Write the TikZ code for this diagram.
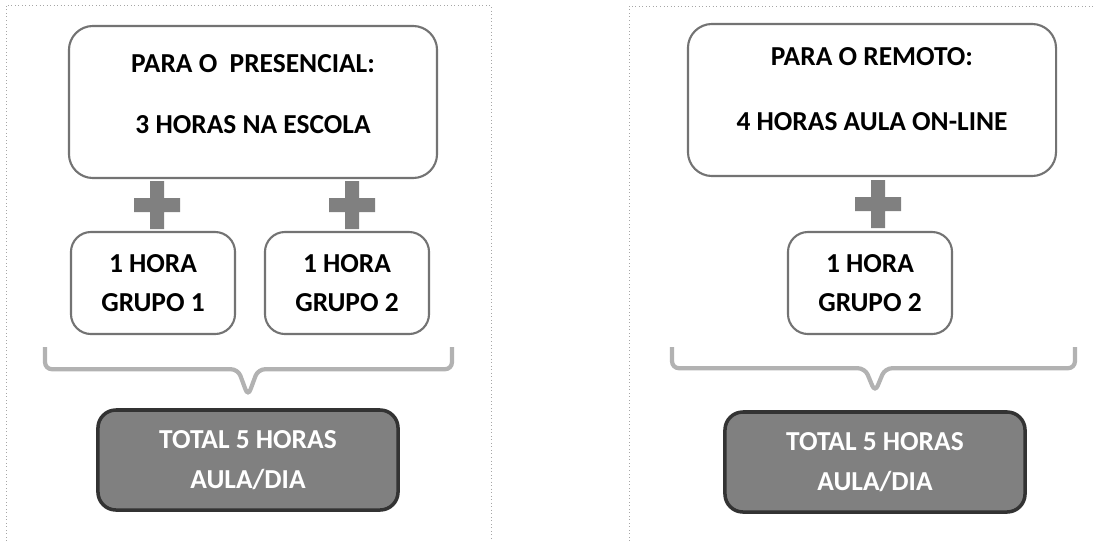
\documentclass[tikz,border=0pt]{standalone}
\usepackage{fontspec}
\setmainfont{Carlito}
\usetikzlibrary{calc,positioning}
\def\plusmark(#1){\fill[black!50] ($(#1)+(-7,-24)$) -- ($(#1)+(7,-24)$) -- ($(#1)+(7,-7)$) -- ($(#1)+(23,-7)$) -- ($(#1)+(23,7)$) -- ($(#1)+(7,7)$) -- ($(#1)+(7,24)$) -- ($(#1)+(-7,24)$) -- ($(#1)+(-7,7)$) -- ($(#1)+(-23,7)$) -- ($(#1)+(-23,-7)$) -- ($(#1)+(-7,-7)$) -- cycle;}
\tikzset{
	boxfont/.style={font=\bfseries\fontsize{19.5}{23}\selectfont},
	bigbox/.style={boxfont, draw=black!55, line width=1.5pt, rounded corners=0.6cm, minimum width=9.2cm, minimum height=3.8cm, align=center},
	grupobox/.style={boxfont, draw=black!55, line width=1.5pt, rounded corners=0.5cm, minimum width=4.1cm, minimum height=2.55cm, align=center},
	totalbox/.style={boxfont, draw=black!80, line width=2.5pt, fill=black!50, text=white, rounded corners=0.45cm, minimum width=7.5cm, minimum height=2.5cm, align=center},
	frame/.style={draw=black!35, line width=0.5pt, dotted},
	bracket/.style={draw=black!30, line width=3pt, rounded corners=5pt},
}

\begin{document}
\begin{tikzpicture}[x=0.025cm, y=-0.025cm]
			%%%%% START %%%%%
			\useasboundingbox (0, 0) rectangle (1093, 541);
			
			\draw[frame] (6, 541) |- (491, 5) -- (491, 541);
			\draw[frame] (629, 541) |- (1093, 6);
			
			% presencial
			\node[bigbox, text depth=0.4cm] (pres) at (253, 102) {PARA O \ PRESENCIAL:\\[19.7pt]3 HORAS NA ESCOLA};
			\node[grupobox] (pgA) at (153, 283) {1 HORA\\[4.7pt]GRUPO 1};
			\node[grupobox] (pgB) at (347, 283) {1 HORA\\[4.7pt]GRUPO 2};
			\node[totalbox] (ptot) at (248, 460) {TOTAL 5 HORAS\\[5.5pt]AULA/DIA};
			
			\coordinate (pplusA) at ($(pgA.north)!0.5!(pgA.north |- pres.south)+(4,0)$);
			\coordinate (pplusB) at ($(pgB.north)!0.5!(pgB.north |- pres.south)+(5,0)$);
			\plusmark(pplusA)
			\plusmark(pplusB)
			
			\coordinate (ptip) at ($(ptot.north)+(0,-12)$);
			\draw[bracket] (45, 347) |- ($(ptip)+(-10,-27)$) -- (ptip) -- ($(ptip)+(10,-27)$) -| (452, 347);
			
			% remoto
			\node[bigbox, text depth=0.55cm] (rem) at (872, 100) {PARA O REMOTO:\\[23.5pt]4 HORAS AULA ON-LINE};
			\node[grupobox] (rgB) at (870, 283) {1 HORA\\[4.7pt]GRUPO 2};
			\node[totalbox] (rtot) at (875, 462) {TOTAL 5 HORAS\\[5.5pt]AULA/DIA};
			
			\coordinate (rplus) at ($(rgB.north)!0.5!(rgB.north |- rem.south)+(8,0)$);
			\plusmark(rplus)
			
			\coordinate (rtip) at ($(rtot.north)+(0,-18)$);
			\draw[bracket] (672, 347) |- ($(rtip)+(-10,-24)$) -- (rtip) -- ($(rtip)+(10,-24)$) -| (1075, 347);
			
			%%%%% END %%%%%
		\end{tikzpicture}
\end{document}
